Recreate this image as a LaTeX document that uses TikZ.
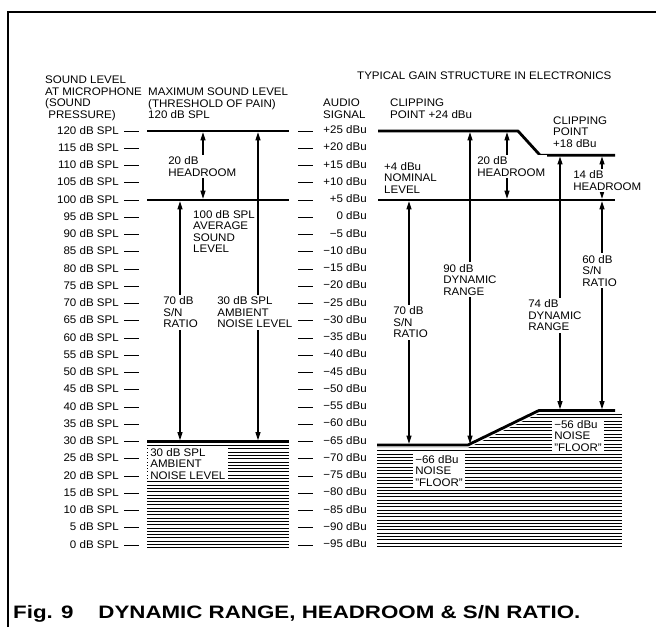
\documentclass[tikz,border=0pt]{standalone}
\usepackage{fontspec}
\setmainfont{Liberation Sans}
\usetikzlibrary{arrows.meta}
% level of a sound pressure in dB SPL, as picture y
\newcommand{\spl}[1]{131+(120-(#1))*3.45}
\providecommand{\gsLevelWidth}{2.8pt}
\providecommand{\gsArrowWidth}{1.1pt}
\providecommand{\gsHatchStep}{3.3}
\begin{document}
\begin{tikzpicture}[x=1pt, y=-1pt,
  lbl/.style={font=\fontsize{11}{11.5}\selectfont, inner sep=0pt, align=left, xscale=1.05},
  cutlbl/.style={lbl, fill=white, inner sep=2pt},
  level/.style={line width=\gsLevelWidth, line join=round},
  dimarrow/.style={line width=\gsArrowWidth, {Triangle[length=8pt,width=5pt]}-{Triangle[length=8pt,width=5pt]}, shorten <=1.3pt, shorten >=1.3pt},
  tick/.style={line width=0.9pt},
  hatch/.style={line width=1pt},
  frame/.style={line width=1.2pt}]
\useasboundingbox (0,0) rectangle (656,627);
% Frame
\draw[frame] (8,627) -- (8,12) -- (656,12);
% Headings (base = last line)
\node[lbl, anchor=base west] (micHead) at (45,118) {SOUND LEVEL\\AT MICROPHONE\\(SOUND\\\hspace*{3pt}PRESSURE)};
\node[lbl, anchor=base west] (painHead) at (148,118.5) {MAXIMUM SOUND LEVEL\\(THRESHOLD OF PAIN)\\120 dB SPL};
\node[lbl, anchor=base west] (audioHead) at (323,118.3) {AUDIO\\SIGNAL};
\node[lbl, anchor=base west] (gainHead) at (357,79) {TYPICAL GAIN STRUCTURE IN ELECTRONICS};
\node[lbl, anchor=base west] (clipHeadA) at (390,118) {CLIPPING\\POINT +24 dBu};
\node[lbl, anchor=base west] (clipHeadB) at (553,147) {CLIPPING\\POINT\\+18 dBu};
% Scales, dB SPL on the left and dBu on the right
\foreach \i [evaluate=\i as \db using int(5*\i), evaluate=\i as \dbu using int(5*\i-95)] in {0,...,24} {
  \draw[tick] (124,{\spl{\db}}) -- (139,{\spl{\db}});
  \draw[tick] (298,{\spl{\db}}) -- (313,{\spl{\db}});
  \node[lbl, anchor=base east] (spl\i) at (119,{\spl{\db}+3}) {\db\ dB SPL};
  \node[lbl, anchor=base east] (dbu\i) at (367,{\spl{\db}+2.5})
    {\ifnum\dbu>0 +\dbu\else\ifnum\dbu<0 −\number-\dbu\else 0\fi\fi\ dBu};
}
% Noise hatching
\begin{scope}
  \clip (147,{\spl{30}+3}) rectangle (289,548);
  \foreach \k in {0,...,31}
    \draw[hatch] (147,{\spl{30}+4+\gsHatchStep*\k}) -- (289,{\spl{30}+4+\gsHatchStep*\k});
\end{scope}
\begin{scope}
  \clip (377,{\spl{29}+3}) -- (468,{\spl{29}+3}) -- (539,{\spl{39}+3}) -- (622,{\spl{39}+3}) -- (622,548) -- (377,548) -- cycle;
  \foreach \k in {0,...,41}
    \draw[hatch] (377,{\spl{39}+4+\gsHatchStep*\k}) -- (622,{\spl{39}+4+\gsHatchStep*\k});
\end{scope}
% Sound levels at the microphone
\coordinate (painW) at (147,{\spl{120}});
\coordinate (painE) at (289,{\spl{120}});
\coordinate (avgW) at (147,{\spl{100}});
\coordinate (avgE) at (289,{\spl{100}});
\coordinate (ambW) at (147,{\spl{30}});
\coordinate (ambE) at (289,{\spl{30}});
\draw[level] (painW) -- (painE);
\draw[level] (avgW) -- (avgE);
\draw[level] (ambW) -- (ambE);
% Gain structure in electronics
\coordinate (clipW) at (378,{\spl{120}});
\coordinate (clipK1) at (518,{\spl{120}});
\coordinate (clipK2) at (540,{\spl{113}});
\coordinate (clipE) at (615,{\spl{113}});
\coordinate (nomW) at (378,{\spl{100}});
\coordinate (nomE) at (615,{\spl{100}});
\coordinate (floorW) at (377,{\spl{29}});
\coordinate (floorK1) at (468,{\spl{29}});
\coordinate (floorK2) at (539,{\spl{39}});
\coordinate (floorE) at (615,{\spl{39}});
\draw[level] (clipW) -- (clipK1) -- (clipK2) -- (clipE);
\draw[level] (nomW) -- (nomE);
\draw[level] (floorW) -- (floorK1) -- (floorK2) -- (floorE);
% Dimension arrows, left
\coordinate (hrLTop) at (203,{\spl{120}});
\coordinate (hrLBot) at (203,{\spl{100}});
\coordinate (snLTop) at (180,{\spl{100}});
\coordinate (snLBot) at (180,{\spl{30}});
\coordinate (ambTop) at (258,{\spl{120}});
\coordinate (ambBot) at (258,{\spl{30}});
\draw[dimarrow] (hrLTop) -- (hrLBot);
\draw[dimarrow] (snLTop) -- (snLBot);
\draw[dimarrow] (ambTop) -- (ambBot);
% Dimension arrows, right
\coordinate (snRTop) at (409,{\spl{100}});
\coordinate (snRBot) at (409,{\spl{29}});
\coordinate (dr90Top) at (470,{\spl{120}});
\coordinate (dr90Bot) at (470,{\spl{29}});
\coordinate (hrRTop) at (507,{\spl{120}});
\coordinate (hrRBot) at (507,{\spl{100}});
\coordinate (dr74Top) at (560,{\spl{113}});
\coordinate (dr74Bot) at (560,{\spl{39}});
\coordinate (hr14Top) at (602,{\spl{113}});
\coordinate (hr14Bot) at (602,{\spl{100}});
\coordinate (sn60Top) at (602,{\spl{100}});
\coordinate (sn60Bot) at (602,{\spl{39}});
\draw[dimarrow] (snRTop) -- (snRBot);
\draw[dimarrow] (dr90Top) -- (dr90Bot);
\draw[dimarrow] (hrRTop) -- (hrRBot);
\draw[dimarrow] (dr74Top) -- (dr74Bot);
\draw[dimarrow] (hr14Top) -- (hr14Bot);
\draw[dimarrow] (sn60Top) -- (sn60Bot);
% Labels (base = last line)
\node[cutlbl, anchor=base west] (hrLLbl) at (166,176) {20 dB\\HEADROOM};
\node[lbl, anchor=base west] (avgLbl) at (193,252.7) {100 dB SPL\\AVERAGE\\SOUND\\LEVEL};
\node[cutlbl, anchor=base west] (snLLbl) at (161,327.7) {70 dB\\S/N\\RATIO};
\node[cutlbl, anchor=base west] (ambLbl) at (215,327.7) {30 dB SPL\\AMBIENT\\NOISE LEVEL};
\node[cutlbl, anchor=base west] (ambFloorLbl) at (148,479) {30 dB SPL\\AMBIENT\\NOISE LEVEL};
\node[lbl, anchor=base west] (nomLbl) at (384,193) {+4 dBu\\NOMINAL\\LEVEL};
\node[cutlbl, anchor=base west] (hrRLbl) at (475,176) {20 dB\\HEADROOM};
\node[cutlbl, anchor=base west] (hr14Lbl) at (571,190) {14 dB\\HEADROOM};
\node[cutlbl, anchor=base west] (dr90Lbl) at (441,295) {90 dB\\DYNAMIC\\RANGE};
\node[cutlbl, anchor=base west] (sn60Lbl) at (580,286) {60 dB\\S/N\\RATIO};
\node[cutlbl, anchor=base west] (dr74Lbl) at (526,330.7) {74 dB\\DYNAMIC\\RANGE};
\node[cutlbl, anchor=base west] (snRLbl) at (391,337.7) {70 dB\\S/N\\RATIO};
\node[cutlbl, anchor=base west] (fl66Lbl) at (413,486) {−66 dBu\\NOISE\\"FLOOR"};
\node[cutlbl, anchor=base west] (fl56Lbl) at (552,451) {−56 dBu\\NOISE\\"FLOOR"};
% Caption
\node[anchor=base west, inner sep=0pt, xscale=1.24, font=\bfseries\fontsize{18}{20}\selectfont] (caption) at (13,618)
  {Fig. 9\hspace{20pt}DYNAMIC RANGE, HEADROOM \& S/N RATIO.};
\end{tikzpicture}
\end{document}
